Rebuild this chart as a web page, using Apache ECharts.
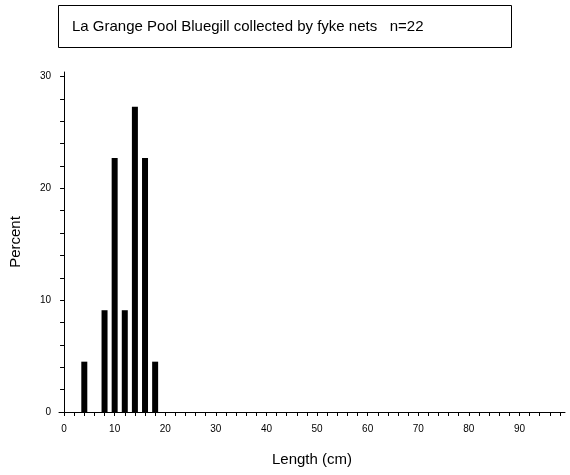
<!DOCTYPE html>
<html>
<head>
<meta charset="utf-8">
<script src="https://cdn.jsdelivr.net/npm/echarts@6/dist/echarts.min.js"></script>
<style>html,body{margin:0;padding:0;background:#fff}#chart{width:570px;height:475px}</style>
</head>
<body>
<div id="chart"></div>
<script>
// length classes (cm) and percent of catch
const lengths = [4, 8, 10, 12, 14, 16, 18];
const percents = [4.5, 9.1, 22.7, 9.1, 27.3, 22.7, 4.5];
const xLabels = [0, 10, 20, 30, 40, 50, 60, 70, 80, 90];
const yLabels = [0, 10, 20, 30];

const xTicks = [];
for (let i = 0; i <= 98; i += 2) xTicks.push(i);
const yTicks = [];
for (let i = 0; i <= 30; i += 2) yTicks.push(i);

const font = 'Liberation Sans, Arial, sans-serif';
const myChart = echarts.init(document.getElementById('chart'));
const option = {
  animation: false,
  graphic: [
    {
      type: 'rect',
      shape: { x: 58.5, y: 5.5, width: 453, height: 42 },
      style: { fill: 'none', stroke: '#000', lineWidth: 1 },
    },
    {
      type: 'text',
      left: 72,
      top: 19,
      style: {
        text: 'La Grange Pool Bluegill collected by fyke nets   n=22',
        font: '15px ' + font,
        fill: '#000',
      },
    },
  ],
  grid: { left: 55, right: 5, top: 72, bottom: 63 },
  xAxis: {
    type: 'value',
    min: -1,
    max: 99,
    name: 'Length (cm)',
    nameLocation: 'middle',
    nameGap: 40,
    nameTextStyle: { fontFamily: font, fontSize: 15, color: '#000' },
    axisLine: { lineStyle: { color: '#000' } },
    axisTick: { customValues: xTicks, length: 4, inside: false, lineStyle: { color: '#000' } },
    axisLabel: { customValues: xLabels, fontFamily: font, fontSize: 10, color: '#000', margin: 12 },
    splitLine: { show: false },
  },
  yAxis: {
    type: 'value',
    min: 0,
    max: 30.4,
    name: 'Percent',
    nameLocation: 'middle',
    nameGap: 36,
    nameTextStyle: { fontFamily: font, fontSize: 15, color: '#000' },
    axisLine: { show: true, lineStyle: { color: '#000' } },
    axisTick: { customValues: yTicks, length: 4, lineStyle: { color: '#000' } },
    axisLabel: { customValues: yLabels, fontFamily: font, fontSize: 10, color: '#000', margin: 8 },
    splitLine: { show: false },
  },
  series: [
    {
      type: 'bar',
      barWidth: 6,
      itemStyle: { color: '#000' },
      data: lengths.map((l, i) => [l, percents[i]]),
    },
  ],
};
myChart.setOption(option, true);
</script>
</body>
</html>
